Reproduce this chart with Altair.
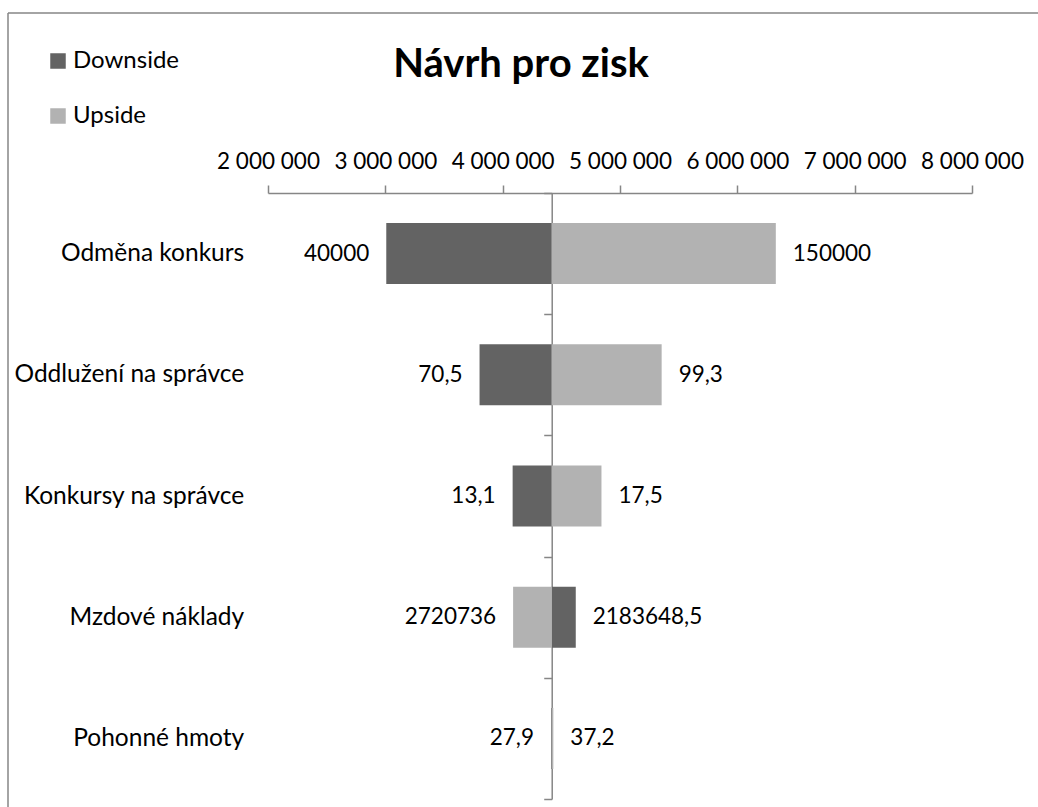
import altair as alt
import pandas as pd

categories = ["Odměna konkurs", "Oddlužení na správce", "Konkursy na správce",
              "Mzdové náklady", "Pohonné hmoty"]
downside_values = [3008000, 3803000, 4085000, 4623000, 4412000]
upside_values = [6328000, 5355000, 4842000, 4089000, 4432000]
downside_labels = ["40000", "70,5", "13,1", "2183648,5", "27,9"]
upside_labels = ["150000", "99,3", "17,5", "2720736", "37,2"]
base_value = 4418000
x_ticks = [2000000, 3000000, 4000000, 5000000, 6000000, 7000000, 8000000]
series_names = ["Downside", "Upside"]
series_colors = ["#636363", "#B2B2B2"]

rows = []
for c, dv, uv, dl, ul in zip(categories, downside_values, upside_values,
                             downside_labels, upside_labels):
    rows.append({"cat": c, "series": "Downside", "val": dv, "lab": dl})
    rows.append({"cat": c, "series": "Upside", "val": uv, "lab": ul})
df = pd.DataFrame(rows)

W, H = 704, 606
FONT = "Lato"
GRAY = "#868686"
x_min, x_max = x_ticks[0], x_ticks[-1]
axis_offset = -(base_value - x_min) / (x_max - x_min) * W

xscale = alt.Scale(domain=[x_min, x_max], nice=False, zero=False)
yscale = alt.Scale(domain=categories, paddingInner=0, paddingOuter=0)

base = alt.Chart(df)

bars = base.mark_bar(size=61).encode(
    x=alt.X("val:Q", scale=xscale,
            axis=alt.Axis(orient="top", values=x_ticks, grid=False, title=None,
                          labelExpr="replace(format(datum.value, ','), regexp(',', 'g'), ' ')",
                          labelOverlap=False, labelFlush=False,
                          domainColor=GRAY, tickColor=GRAY, domainWidth=1.5,
                          tickWidth=1.5, tickSize=8, labelPadding=12,
                          labelFont=FONT, labelFontSize=22.5, labelColor="black")),
    x2=alt.X2(datum=base_value),
    y=alt.Y("cat:N", scale=yscale, sort=categories,
            axis=alt.Axis(orient="left", title=None, offset=axis_offset,
                          domainColor=GRAY, tickColor=GRAY, domainWidth=1.5,
                          tickWidth=1.5, tickSize=8, tickBand="extent",
                          labelPadding=300, labelLimit=0, labelFont=FONT,
                          labelFontSize=24.5, labelColor="black")),
    color=alt.Color("series:N", scale=alt.Scale(domain=series_names, range=series_colors),
                    legend=alt.Legend(orient="none", legendX=-222, legendY=-144,
                                      title=None, symbolType="square", symbolSize=240,
                                      symbolStrokeWidth=0, labelFont=FONT,
                                      labelFontSize=24, labelColor="black",
                                      labelOffset=3, rowPadding=31)),
)

left_text = base.transform_filter(f"datum.val < {base_value}").mark_text(
    align="right", baseline="middle", dx=-17, font=FONT, fontSize=22.5, color="black"
).encode(x=alt.X("val:Q", scale=xscale), y=alt.Y("cat:N", scale=yscale, sort=categories),
         text="lab:N")

right_text = base.transform_filter(f"datum.val >= {base_value}").mark_text(
    align="left", baseline="middle", dx=17, font=FONT, fontSize=22.5, color="black"
).encode(x=alt.X("val:Q", scale=xscale), y=alt.Y("cat:N", scale=yscale, sort=categories),
         text="lab:N")

frame_top = alt.Chart(pd.DataFrame({"k": [0]})).mark_rule(color=GRAY, strokeWidth=1.5).encode(
    x=alt.value(-260), x2=alt.value(770), y=alt.value(-180))
frame_left = alt.Chart(pd.DataFrame({"k": [0]})).mark_rule(color=GRAY, strokeWidth=1.5).encode(
    x=alt.value(-260), y=alt.value(-180), y2=alt.value(614))

chart = alt.layer(bars, left_text, right_text, frame_top, frame_left).properties(
    width=W, height=H,
    background="white",
    title=alt.TitleParams("Návrh pro zisk", font=FONT, fontSize=40, fontWeight="bold",
                          color="black", anchor="middle", dx=-99, offset=-105,
                          baseline="alphabetic"),
    autosize=alt.AutoSizeParams(type="none"),
    padding={"left": 268, "top": 193, "right": 66, "bottom": 8},
).configure_view(stroke=None)

chart.save("out.html", embed_options={"renderer": "svg", "actions": False})
